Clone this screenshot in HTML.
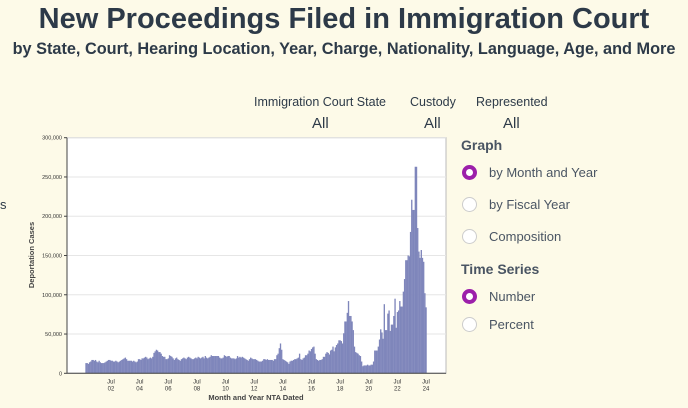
<!DOCTYPE html>
<html><head><meta charset="utf-8"><style>
body{margin:0;width:688px;height:408px;background:#fdfae8;font-family:"Liberation Sans",sans-serif;position:relative;overflow:hidden;color:#2d3a48}
.a{position:absolute;white-space:nowrap}
.radio{position:absolute;width:15px;height:15px;border-radius:50%;box-sizing:border-box;border:1px solid #ccc;background:#fff}
.radio.on{border:4.5px solid #9c1faa;background:#fff}
.rl{position:absolute;font-size:13px;color:#4a5563}
</style></head><body>
<div class="a" style="left:0;width:688px;text-align:center;top:3px;font-size:29px;font-weight:bold">New Proceedings Filed in Immigration Court</div>
<div class="a" style="left:0;width:688px;text-align:center;top:40px;font-size:16.3px;font-weight:bold">by State, Court, Hearing Location, Year, Charge, Nationality, Language, Age, and More</div>
<div class="a" style="left:254px;top:95px;font-size:12.5px">Immigration Court State</div>
<div class="a" style="left:312px;top:115px;font-size:15px">All</div>
<div class="a" style="left:410px;top:95px;font-size:12.5px">Custody</div>
<div class="a" style="left:424px;top:115px;font-size:15px">All</div>
<div class="a" style="left:476px;top:95px;font-size:12.5px">Represented</div>
<div class="a" style="left:503px;top:115px;font-size:15px">All</div>
<div class="a" style="left:0;top:197px;font-size:13px">s</div>

<div class="a" style="left:461px;top:137px;font-size:14px;font-weight:bold;color:#4a5563">Graph</div>
<div class="radio on" style="left:462px;top:165px"></div>
<div class="rl" style="left:489px;top:165px">by Month and Year</div>
<div class="radio" style="left:462px;top:197px"></div>
<div class="rl" style="left:489px;top:197px">by Fiscal Year</div>
<div class="radio" style="left:462px;top:229px"></div>
<div class="rl" style="left:489px;top:229px">Composition</div>
<div class="a" style="left:461px;top:261px;font-size:14px;font-weight:bold;color:#4a5563">Time Series</div>
<div class="radio on" style="left:462px;top:289px"></div>
<div class="rl" style="left:489px;top:289px">Number</div>
<div class="radio" style="left:462px;top:317px"></div>
<div class="rl" style="left:489px;top:317px">Percent</div>

<svg id="chart" width="688" height="408" style="position:absolute;left:0;top:0"></svg>
<script>
const values=[
13,13,12,14,15,17,17,16,17,15,14,16,
14,13,13,13,14,15,16,17,17,16,16,15,
15,16,15,14,15,16,17,18,19,20,18,16,
16,16,16,15,16,15,14,15,18,18,17,19,
19,20,21,20,18,19,20,19,21,26,28,30,
29,27,27,25,22,21,21,18,18,19,23,22,
21,19,17,19,20,18,17,16,18,19,20,19,
18,20,21,20,19,18,18,19,20,19,21,20,
19,20,21,19,22,20,19,20,21,23,22,22,
22,22,22,22,20,19,19,20,23,22,21,22,
22,20,19,19,19,18,19,22,20,21,20,21,
20,19,18,17,16,18,20,19,18,18,18,17,
16,15,15,15,16,18,18,17,18,17,17,17,
17,16,18,18,23,25,32,38,30,18,17,16,
15,14,12,15,16,16,17,18,18,19,20,25,
18,17,19,20,23,23,25,29,28,31,33,34,
25,18,17,16,17,17,18,21,21,25,27,26,
24,29,30,34,28,33,36,38,42,42,41,38,
51,66,66,77,92,73,73,66,55,34,27,26,
25,23,22,15,9,10,10,10,11,10,10,11,
11,15,29,29,29,34,43,56,52,44,88,55,
55,76,80,54,62,62,73,95,58,78,80,92,
85,85,104,120,144,144,150,149,180,221,208,208,
263,263,185,155,147,157,147,142,102,84].map(v=>v*1000);
const yTicks=[0,50000,100000,150000,200000,250000,300000];
const xTickYears=["02","04","06","08","10","12","14","16","18","20","22","24"];
const ns="http://www.w3.org/2000/svg",svg=document.getElementById('chart');
const L=67,R=446,T=137.7,B=373.3,step=315/264;
const y=v=>B-(v/300000)*(B-T);
const x=i=>111+(i-21)*step;
function mk(t,a){const e=document.createElementNS(ns,t);for(const k in a)e.setAttribute(k,a[k]);svg.appendChild(e);return e;}
const bg=mk('rect',{x:L,y:T,width:R-L,height:B-T,fill:'#fff',stroke:'#bbb','stroke-width':1});


yTicks.forEach(t=>{
 const g=mk('line',{x1:L,x2:R,y1:y(t),y2:y(t),stroke:'#e6e6e6','stroke-width':1});
 
 
 const tk=mk('line',{x1:L-3,x2:L,y1:y(t),y2:y(t),stroke:'#444'});
 
 
 const tx=mk('text',{x:L-5,y:y(t)+2,'font-size':5.5,'text-anchor':'end',fill:'#333'});
 tx.textContent=t.toLocaleString('en-US');
 
 
});
values.forEach((v,i)=>{
 const r=mk('rect',{x:x(i)-step/2,y:y(v),width:step+0.15,height:B-y(v),fill:'#7f86bb'});
 
 
});
xTickYears.forEach((yr,k)=>{
 const xi=x(21+k*24);
 const a=mk('text',{x:xi,y:B+10,'font-size':6,'text-anchor':'middle',fill:'#333'});a.textContent='Jul';
 
 
 const b=mk('text',{x:xi,y:B+17,'font-size':6,'text-anchor':'middle',fill:'#333'});b.textContent=yr;
 
 
});
const ax=mk('line',{x1:L,x2:R,y1:B,y2:B,stroke:'#444'});


const ay=mk('line',{x1:L,x2:L,y1:T,y2:B,stroke:'#444'});


const xt=mk('text',{x:256,y:400,'font-size':7.5,'font-weight':'bold','text-anchor':'middle',fill:'#444'});xt.textContent='Month and Year NTA Dated';


const yt=mk('text',{x:0,y:0,'font-size':7.5,'font-weight':'bold','text-anchor':'middle',fill:'#444',transform:'translate(34,255) rotate(-90)'});yt.textContent='Deportation Cases';


</script>
</body></html>
